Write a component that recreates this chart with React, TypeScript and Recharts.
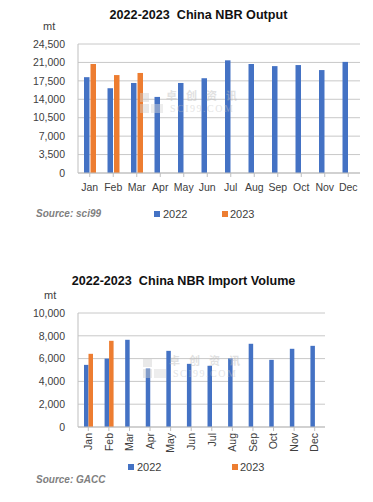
import React from 'react';
import { BarChart, Bar, XAxis, YAxis, CartesianGrid } from 'recharts';

const months = ['Jan', 'Feb', 'Mar', 'Apr', 'May', 'Jun', 'Jul', 'Aug', 'Sep', 'Oct', 'Nov', 'Dec'];

const output2022 = [18200, 16100, 17100, 14450, 17100, 18000, 21400, 20700, 20300, 20500, 19550, 21100];
const output2023: (number | null)[] = [20700, 18600, 19000, null, null, null, null, null, null, null, null, null];
const outputTicks = [0, 3500, 7000, 10500, 14000, 17500, 21000, 24500];

const import2022 = [5450, 6000, 7650, 5130, 6680, 5540, 5370, 6010, 7300, 5890, 6860, 7120];
const import2023: (number | null)[] = [6420, 7560, null, null, null, null, null, null, null, null, null, null];
const importTicks = [0, 2000, 4000, 6000, 8000, 10000];

const outputData = months.map((m, i) => ({ month: m, y2022: output2022[i], y2023: output2023[i] }));
const importData = months.map((m, i) => ({ month: m, y2022: import2022[i], y2023: import2023[i] }));

const BLUE = '#4472C4';
const ORANGE = '#ED7D31';
const GRID = '#c8c8c8';
const AXIS = '#bfbfbf';
const TXT = '#404040';
const FONT = "'Liberation Sans', Arial, sans-serif";

const fmt = (v: number) => v.toLocaleString('en-US');

const RotTick = (props: any) => {
  const { x, y, payload } = props;
  return (
    <text
      x={x}
      y={y}
      transform={`rotate(-90, ${x}, ${y})`}
      textAnchor="end"
      dy="0.36em"
      fill={TXT}
      fontSize={10.5}
      fontFamily={FONT}
    >
      {payload.value}
    </text>
  );
};

const abs = (s: React.CSSProperties): React.CSSProperties => ({ position: 'absolute', fontFamily: FONT, whiteSpace: 'pre', ...s });

const Watermark = ({ left, top }: { left: number; top: number }) => (
  <div style={abs({ left, top, width: 120, height: 24, pointerEvents: 'none', opacity: 0.45 })}>
    <div style={abs({ left: 0, top: 1, width: 9, height: 9, background: '#cfcfcf' })} />
    <div style={abs({ left: 0, top: 12, width: 9, height: 9, background: '#cfcfcf' })} />
    <div style={abs({ left: 11, top: 12, width: 12, height: 9, background: '#d8d8d8' })} />
    <div style={abs({ left: 26, top: -3, fontSize: 11, color: '#bdbdbd', fontFamily: "'Noto Sans CJK SC'", fontWeight: 700, letterSpacing: 9, lineHeight: '13px' })}>卓创资讯</div>
    <div style={abs({ left: 30, top: 11, fontSize: 10, color: '#c4c4c4', fontFamily: "'Liberation Serif', serif", letterSpacing: 1.5, lineHeight: '11px' })}>SCI99.COM</div>
  </div>
);

const LegendRow = ({ top, blueX, orangeX }: { top: number; blueX: number; orangeX: number }) => (
  <>
    <div style={abs({ left: blueX, top: top - 3, width: 6, height: 6, background: BLUE })} />
    <div style={abs({ left: blueX + 9, top: top - 7, fontSize: 11, lineHeight: '14px', color: TXT })}>2022</div>
    <div style={abs({ left: orangeX, top: top - 3, width: 6, height: 6, background: ORANGE })} />
    <div style={abs({ left: orangeX + 8, top: top - 7, fontSize: 11, lineHeight: '14px', color: TXT })}>2023</div>
  </>
);

export default function App() {
  return (
    <div style={{ position: 'absolute', left: 0, top: 0, width: 373, height: 502, background: '#fff', fontFamily: FONT, overflow: 'hidden' }}>
      {/* Chart 1 */}
      <div style={abs({ left: 24, top: 7, width: 349, textAlign: 'center', fontSize: 12.6, fontWeight: 700, lineHeight: '16px', color: '#111' })}>
        {'2022-2023  China NBR Output'}
      </div>
      <div style={abs({ left: 43, top: 20, fontSize: 11, lineHeight: '13px', color: TXT })}>mt</div>
      <div style={abs({ left: 0, top: 0 })}>
        <BarChart width={373} height={250} data={outputData} margin={{ top: 44, right: 13, bottom: 47, left: 0 }} barSize={5.5} barGap={1}>
          <CartesianGrid vertical={false} stroke={GRID} />
          <XAxis
            dataKey="month"
            height={30}
            interval={0}
            stroke={AXIS}
            tickSize={4}
            tickMargin={7}
            tick={{ fill: TXT, fontSize: 10.5, fontFamily: FONT }}
          />
          <YAxis
            width={78}
            domain={[0, 24500]}
            ticks={outputTicks}
            tickFormatter={fmt}
            stroke={AXIS}
            tickLine={false}
            tickMargin={7}
            tick={{ fill: TXT, fontSize: 10.5, fontFamily: FONT }}
            interval={0}
          />
          <Bar dataKey="y2022" fill={BLUE} isAnimationActive={false} />
          <Bar dataKey="y2023" fill={ORANGE} isAnimationActive={false} />
        </BarChart>
      </div>
      <Watermark left={140} top={92} />
      <div style={abs({ left: 36, top: 207, fontSize: 10, lineHeight: '14px', fontWeight: 700, fontStyle: 'italic', color: '#808080' })}>Source: sci99</div>
      <LegendRow top={214} blueX={154} orangeX={222} />

      {/* Chart 2 */}
      <div style={abs({ left: -3, top: 273, width: 373, textAlign: 'center', fontSize: 12.6, fontWeight: 700, lineHeight: '16px', color: '#111' })}>
        {'2022-2023  China NBR Import Volume'}
      </div>
      <div style={abs({ left: 44, top: 289, fontSize: 11, lineHeight: '13px', color: TXT })}>mt</div>
      <div style={abs({ left: 0, top: 250 })}>
        <BarChart width={373} height={252} data={importData} margin={{ top: 63, right: 48, bottom: 30, left: 0 }} barSize={4.5} barGap={0}>
          <CartesianGrid vertical={false} stroke={GRID} />
          <XAxis
            dataKey="month"
            height={45}
            interval={0}
            stroke={AXIS}
            tickSize={4}
            tickMargin={2}
            tick={<RotTick />}
          />
          <YAxis
            width={78}
            domain={[0, 10000]}
            ticks={importTicks}
            tickFormatter={fmt}
            stroke={AXIS}
            tickLine={false}
            tickMargin={7}
            tick={{ fill: TXT, fontSize: 10.5, fontFamily: FONT }}
            interval={0}
          />
          <Bar dataKey="y2022" fill={BLUE} isAnimationActive={false} />
          <Bar dataKey="y2023" fill={ORANGE} isAnimationActive={false} />
        </BarChart>
      </div>
      <Watermark left={143} top={357} />
      <LegendRow top={467} blueX={128} orangeX={232} />
      <div style={abs({ left: 36, top: 473, fontSize: 10, lineHeight: '14px', fontWeight: 700, fontStyle: 'italic', color: '#808080' })}>Source: GACC</div>
    </div>
  );
}
